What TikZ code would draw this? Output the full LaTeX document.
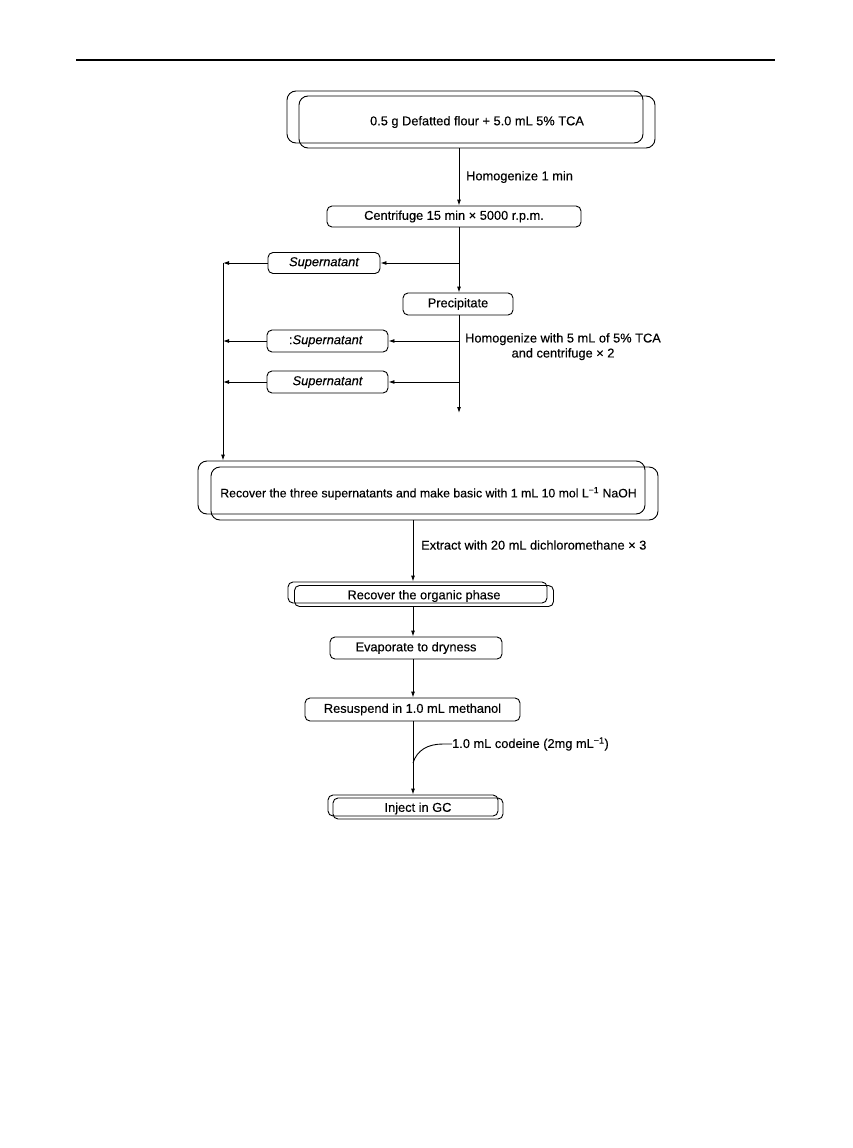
\documentclass[tikz,border=0pt]{standalone}
\usepackage{fontspec}
\setmainfont{Liberation Sans}[FakeBold=0.3]
\usetikzlibrary{arrows.meta,calc}
\begin{document}
\begin{tikzpicture}[x=1pt,y=-1pt,
  txt/.style={font=\fontsize{12.8}{15}\selectfont},
  box/.style={draw,line width=0.9pt,rounded corners=5pt,inner sep=0pt,txt},
  bigbox/.style={box,rounded corners=9pt},
  arr/.style={line width=0.9pt,-{Latex[length=6pt,width=4pt]}},
  conn/.style={line width=0.9pt},
  lbl/.style={txt,inner sep=0pt},
]
\useasboundingbox (0,0) rectangle (852,1148);
\draw[line width=2pt] (76,60) -- (775,60);

% axis coordinates
\coordinate (xa) at (459,0);
\coordinate (xl) at (223,0);
\coordinate (xb) at (413,0);

% box 1
\node[bigbox,minimum width=356,minimum height=52] (b1g) at (465,117) {};
\node[bigbox,minimum width=356,minimum height=52] (b1) at (477,122) {0.5 g Defatted flour + 5.0 mL 5\% TCA};

\node[box,minimum width=254,minimum height=21] (cen) at (454,216.5) {Centrifuge 15 min × 5000 r.p.m.};
\node[box,minimum width=112,minimum height=21] (s1) at (324,263) {\itshape Supernatant};
\node[box,minimum width=110,minimum height=22] (prec) at (458,304) {Precipitate};
\node[box,minimum width=121,minimum height=22] (s2) at (327.5,341) {\llap{:}\itshape Supernatant};
\node[box,minimum width=121,minimum height=22] (s3) at (327.5,382) {\itshape Supernatant};

% big box
\node[bigbox,minimum width=447,minimum height=53] (bgg) at (421.5,487.5) {};
\node[bigbox,minimum width=447,minimum height=53,font=\fontsize{12.3}{15}\selectfont] (bg) at (434.5,493.5) {Recover the three supernatants and make basic with 1 mL 10 mol L\textsuperscript{−1} NaOH\hspace*{12pt}};

\node[box,minimum width=259,minimum height=21] (orgg) at (417.5,592.5) {};
\node[box,minimum width=259,minimum height=21] (org) at (424,596) {Recover the organic phase};
\node[box,minimum width=172,minimum height=22] (eva) at (416,648) {Evaporate to dryness};
\node[box,minimum width=215,minimum height=23] (res) at (412.5,709.5) {Resuspend in 1.0 mL methanol};
\node[box,minimum width=170,minimum height=21] (injg) at (413,805.5) {};
\node[box,minimum width=170,minimum height=21] (inj) at (418,808.5) {Inject in GC};

% labels
\node[lbl,anchor=west] (l1) at (466,177) {Homogenize 1 min};
\node[lbl,align=center,anchor=north west] (l2) at (465,333) {Homogenize with 5 mL of 5\% TCA\\and centrifuge × 2};
\node[lbl,anchor=west] (l3) at (421,545) {Extract with 20 mL dichloromethane × 3};
\node[lbl,anchor=west] (l4) at (452,744) {1.0 mL codeine (2mg mL\textsuperscript{−1})};

% connectors
\draw[arr] (xa |- b1.south) -- (xa |- cen.north);
\draw[arr] (xa |- cen.south) -- (xa |- prec.north);
\draw[arr] (xa |- s1.east) -- (s1.east);
\draw[arr] (s1.west) -- (xl |- s1.west);
\coordinate (pend) at (459,413);
\draw[arr] (xa |- prec.south) -- (pend);
\draw[arr] (xa |- s2.east) -- (s2.east);
\draw[arr] (s2.west) -- (xl |- s2.west);
\draw[arr] (xa |- s3.east) -- (s3.east);
\draw[arr] (s3.west) -- (xl |- s3.west);
\draw[arr] (xl |- s1.west) -- (xl |- bgg.north);
\draw[arr] (xb |- bg.south) -- (xb |- orgg.north);
\draw[arr] (xb |- org.south) -- (xb |- eva.north);
\draw[arr] (xb |- eva.south) -- (xb |- res.north);
\draw[arr] (xb |- res.south) -- (xb |- injg.north);
\coordinate (cj) at (413,763);
\coordinate (ce) at (443,744);
\draw[conn] (cj) .. controls (417,750) and (428,744) .. (ce) -- (l4.west);
\end{tikzpicture}
\end{document}
